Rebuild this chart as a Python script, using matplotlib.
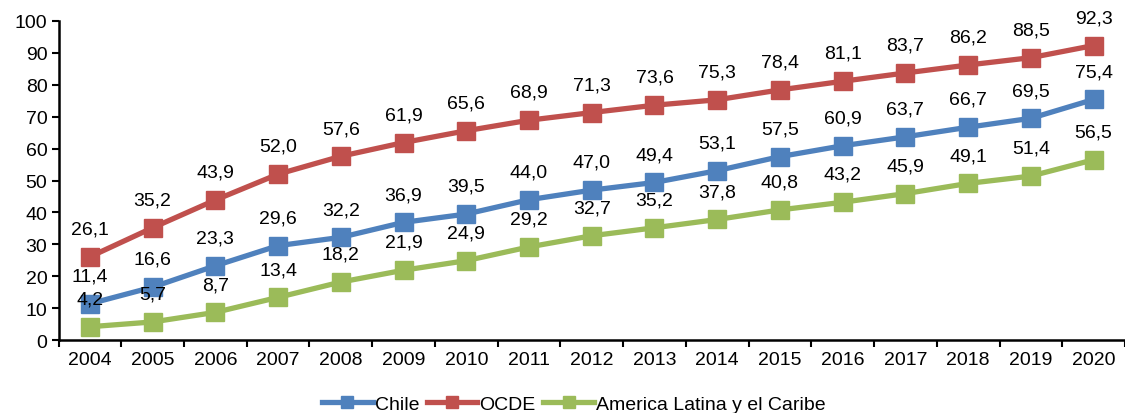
import numpy as np
import matplotlib
matplotlib.use('Agg')
import matplotlib.pyplot as plt

plt.rcParams['font.family'] = ['Liberation Sans', 'DejaVu Sans']

years = list(range(2004, 2021))
chile = [11.4, 16.6, 23.3, 29.6, 32.2, 36.9, 39.5, 44.0, 47.0, 49.4, 53.1, 57.5, 60.9, 63.7, 66.7, 69.5, 75.4]
ocde = [26.1, 35.2, 43.9, 52.0, 57.6, 61.9, 65.6, 68.9, 71.3, 73.6, 75.3, 78.4, 81.1, 83.7, 86.2, 88.5, 92.3]
alc = [4.2, 5.7, 8.7, 13.4, 18.2, 21.9, 24.9, 29.2, 32.7, 35.2, 37.8, 40.8, 43.2, 45.9, 49.1, 51.4, 56.5]

series = [('Chile', chile, '#4F81BD'),
          ('OCDE', ocde, '#C0504D'),
          ('America Latina y el Caribe', alc, '#9BBB59')]

fig = plt.figure(figsize=(11.25, 4.14), dpi=100)
ax = fig.add_axes([0.052, 0.176, 0.948, 0.771])

x = np.arange(len(years))
for name, vals, col in series:
    ax.plot(x, vals, '-s', color=col, lw=3.8, ms=13.5, label=name)
    for xi, v in zip(x, vals):
        ax.annotate(f'{v:.1f}'.replace('.', ','), (xi, v), xytext=(0, 20),
                    textcoords='offset points', ha='center', va='center',
                    fontsize=14)

ax.set_xlim(-0.5, len(years) - 0.5)
ax.set_ylim(0, 100)
ax.set_yticks(range(0, 101, 10))
ax.set_xticks(x)
ax.set_xticklabels([str(y) for y in years])
ax.set_xticks(np.arange(-0.5, len(years), 1), minor=True)
ax.tick_params(axis='x', which='major', length=0, pad=8, labelsize=14)
ax.tick_params(axis='x', which='minor', length=5, width=1.5, direction='out')
ax.tick_params(axis='y', length=5, width=1.5, labelsize=14, pad=3)
for s in ['top', 'right']:
    ax.spines[s].set_visible(False)
for s in ['left', 'bottom']:
    ax.spines[s].set_linewidth(1.8)

fig.legend(loc='lower center', bbox_to_anchor=(0.51, -0.042), ncol=3, frameon=False,
           fontsize=14, handlelength=2.6, columnspacing=0.4, handletextpad=0.1,
           markerscale=0.6)

fig.savefig('out.png', dpi=100)
